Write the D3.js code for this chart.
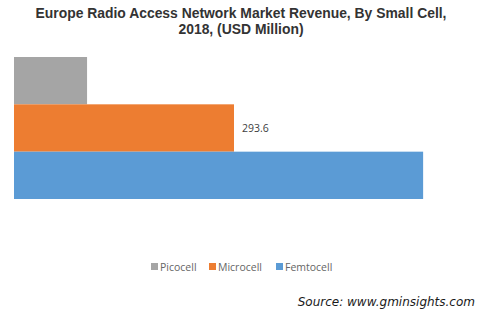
<!DOCTYPE html>
<html>
<head>
<meta charset="utf-8">
<script src="https://cdn.jsdelivr.net/npm/d3@7"></script>
<style>
html,body{margin:0;padding:0;background:#fff;}
svg{display:block;}
</style>
</head>
<body>
<svg id="chart" width="491" height="321"></svg>
<script>
const categories = ["Picocell", "Microcell", "Femtocell"];
const values = [97.5, 293.6, 546.0];
const colors = ["#A5A5A5", "#ED7D31", "#5B9BD5"];
const labelShown = [false, true, false];
const titleLines = ["Europe Radio Access Network Market Revenue, By Small Cell,", "2018, (USD Million)"];
const sourceText = "Source: www.gminsights.com";

const svg = d3.select("#chart");

const x = d3.scaleLinear().domain([0, 600]).range([14, 14 + 600 * (220 / 293.6)]);
const y = d3.scaleBand().domain(categories).range([57, 199]).paddingInner(0).paddingOuter(0);

// title
svg.append("g").selectAll("text").data(titleLines).join("text")
  .attr("x", 241)
  .attr("y", (d, i) => 18 + i * 16)
  .attr("text-anchor", "middle")
  .attr("font-family", "Liberation Sans, Arial, sans-serif")
  .attr("font-weight", "bold")
  .attr("font-size", "13.9px")
  .attr("fill", "#333333")
  .text(d => d);

// bars
svg.append("g").selectAll("rect").data(categories).join("rect")
  .attr("x", x(0))
  .attr("y", d => y(d))
  .attr("width", (d, i) => x(values[i]) - x(0))
  .attr("height", y.bandwidth())
  .attr("fill", (d, i) => colors[i]);

// data labels
svg.append("g").selectAll("text").data(categories.filter((d, i) => labelShown[i])).join("text")
  .attr("x", d => x(values[categories.indexOf(d)]) + 8)
  .attr("y", d => y(d) + y.bandwidth() / 2 + 4)
  .attr("font-family", "Open Sans, sans-serif")
  .attr("font-size", "10.5px")
  .attr("fill", "#404040")
  .text(d => d3.format(".1f")(values[categories.indexOf(d)]));

// legend
const legendX = [151, 209, 276];
const lg = svg.append("g").selectAll("g").data(categories).join("g")
  .attr("transform", (d, i) => `translate(${legendX[i]},267)`);
lg.append("rect").attr("x", 0).attr("y", -4).attr("width", 7).attr("height", 7)
  .attr("fill", (d, i) => colors[i]);
lg.append("text").attr("x", 9).attr("y", 3.5)
  .attr("font-family", "Open Sans, sans-serif")
  .attr("font-size", "10.5px")
  .attr("fill", "#666666")
  .text(d => d);

// source
svg.append("text")
  .attr("x", 475)
  .attr("y", 306)
  .attr("text-anchor", "end")
  .attr("font-family", "DejaVu Sans, Verdana, sans-serif")
  .attr("font-style", "italic")
  .attr("font-size", "12px")
  .attr("fill", "#1a1a1a")
  .text(sourceText);
</script>
</body>
</html>
